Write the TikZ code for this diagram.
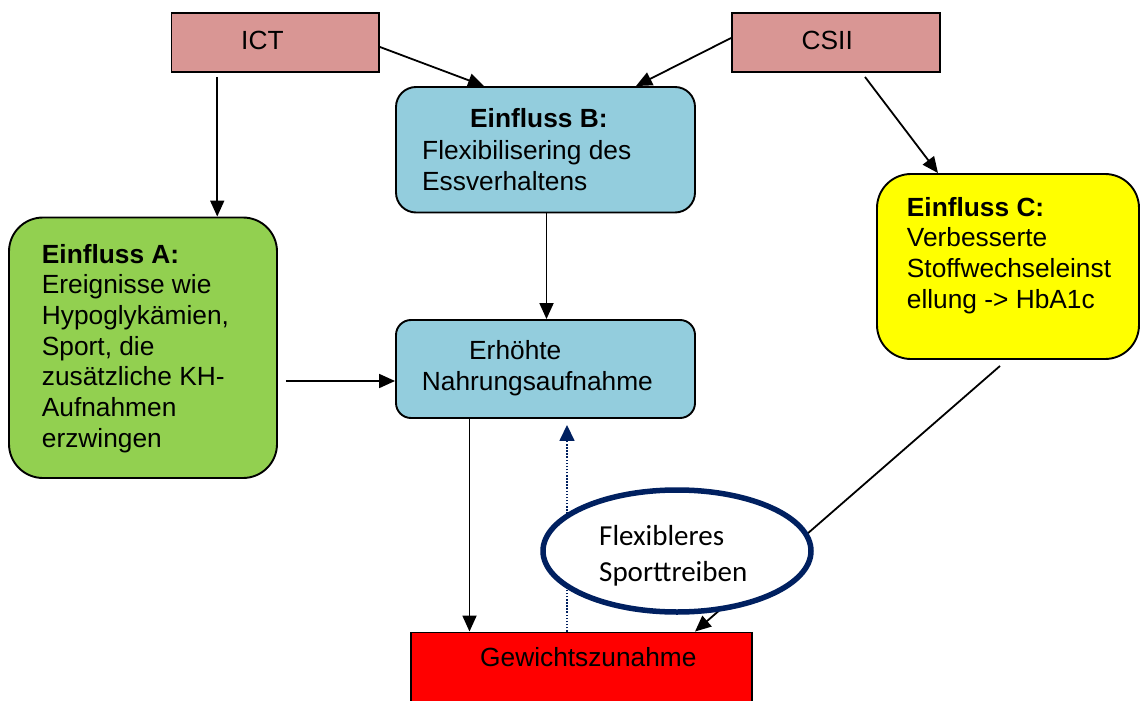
\documentclass[tikz,border=0pt]{standalone}
\usepackage{fontspec}
\setmainfont{Liberation Sans}
\newfontfamily\calfont{Carlito}
\usetikzlibrary{arrows.meta,shapes.geometric,calc}
\definecolor{pinkbox}{HTML}{D99694}
\definecolor{bluebox}{HTML}{93CDDD}
\definecolor{greenbox}{HTML}{92D050}
\definecolor{yellowbox}{HTML}{FFFF00}
\definecolor{redbox}{HTML}{FF0000}
\definecolor{navy}{HTML}{002060}
\newcommand\mylines[1]{\parbox[t]{320pt}{\raggedright #1}}
\tikzset{
  box/.style={draw=black, line width=1.9pt, inner sep=0pt},
  txt/.style={anchor=base west, inner sep=0pt, font=\fontsize{26.3}{31}\selectfont},
  txtb/.style={anchor=base west, inner sep=0pt, font=\fontsize{26.3}{30.7}\selectfont},
  caltxt/.style={anchor=base west, inner sep=0pt, font=\calfont\fontsize{29}{36}\selectfont},
  arr/.style={line width=1.8pt, -{Triangle[length=16pt,width=14pt]}},
  dotarr/.style={draw=navy, line width=1.6pt, dash pattern=on 1.5pt off 1.6pt, -{Triangle[length=16pt,width=15pt]}},
}
\begin{document}
\begin{tikzpicture}[x=1pt,y=-1pt]
\useasboundingbox (0,0) rectangle (1141,701);
\fill[white] (0,0) rectangle (1141,701);
\begin{scope}
\clip (0,0) rectangle (1141,701);
% boxes
\node[box, fill=pinkbox, minimum width=207.5pt, minimum height=59pt] (ict) at (275.25,42.5) {};
\node[box, fill=pinkbox, minimum width=208pt, minimum height=59pt] (csii) at (836,42.5) {};
\node[box, fill=bluebox, rounded corners=20pt, minimum width=299pt, minimum height=125.5pt] (b) at (545.5,149.75) {};
\node[box, fill=greenbox, rounded corners=34pt, minimum width=268pt, minimum height=260.5pt] (a) at (143,347.75) {};
\node[box, fill=yellowbox, rounded corners=34pt, minimum width=262pt, minimum height=185pt] (c) at (1008,266.5) {};
\node[box, fill=bluebox, rounded corners=15pt, minimum width=299pt, minimum height=98pt] (e) at (545.5,369) {};
\node[box, fill=redbox, minimum width=341pt, minimum height=77.5pt] (r) at (581.5,671.25) {};
% texts
\node[txt] (ictt) at (241,50) {ICT};
\node[txt] (csiit) at (801.5,50) {CSII};
\node[txt] (bhead) at (470,128) {\textbf{Einfluss B:}};
\node[txt] (bbody) at (422,159) {\mylines{Flexibilisering des\\Essverhaltens}};
\node[txtb] (at) at (41.7,263) {\mylines{\textbf{Einfluss A:}\\Ereignisse wie\\Hypoglykämien,\\Sport, die\\zusätzliche KH-\\Aufnahmen\\erzwingen}};
\node[txtb] (ct) at (906.7,216) {\mylines{\textbf{Einfluss C:}\\Verbesserte\\Stoffwechseleinst\\ellung -> HbA1c}};
\node[txt] (et1) at (469,359.3) {Erhöhte};
\node[txt] (et2) at (421.7,390) {Nahrungsaufnahme};
\node[txt] (rt) at (480,666.7) {Gewichtszunahme};
% connectors
\coordinate (ictdown) at ([xshift=-58pt,yshift=-4pt]ict.south);
\draw[arr] (ictdown) -- (ictdown |- a.north);
\draw[arr] ([yshift=-4.5pt]ict.east) -- ([xshift=-61.5pt]b.north);
\draw[arr] ([yshift=4.5pt]csii.west) -- ([xshift=90.5pt]b.north);
\draw[arr] ([xshift=29pt,yshift=-4pt]csii.south) -- ([xshift=-70pt]c.north);
\draw[arr] ([xshift=1pt]b.south) -- ([xshift=1pt]e.north);
\coordinate (ein) at ([yshift=-12pt]e.west);
\coordinate (aout) at ([xshift=8pt]a.east);
\draw[arr] (aout |- ein) -- (ein);
\coordinate (edown) at ([xshift=-76pt]e.south);
\draw[arr] (edown) -- (edown |- r.north);
\coordinate (dotbot) at ([xshift=-14.5pt]r.north);
\draw[dotarr] (dotbot) -- ($(dotbot |- e.south)+(0,6)$);
\draw[arr] ([xshift=-8pt,yshift=-6pt]c.south) -- ([xshift=113.5pt]r.north);
% ellipse
\node[ellipse, draw=navy, line width=5.5pt, fill=white, minimum width=268pt, minimum height=122pt, inner sep=0pt] (el) at (677,551) {};
\node[caltxt] (elt1) at (599,545) {Flexibleres};
\node[caltxt] (elt2) at (599,581) {Sporttreiben};
\end{scope}
\end{tikzpicture}
\end{document}
